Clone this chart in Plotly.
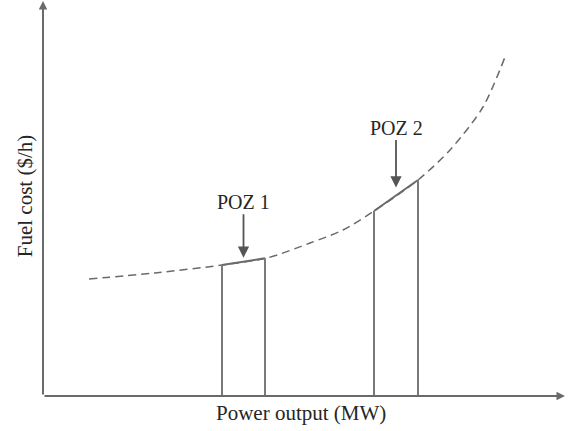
import numpy as np
import plotly.graph_objects as go

# Fuel cost curve (arbitrary units)
power = [46, 112, 179, 224, 267, 300, 331, 375, 407, 440, 462]
cost = [117, 123, 131, 138, 153, 166, 185, 216, 246, 289, 339]

# Prohibited operating zones (power bounds)
poz_names = ["POZ 1", "POZ 2"]
poz_low = [179, 331]
poz_high = [222, 375]

# label placement styling (pixel offsets)
label_offsets = [-60, -68]
arrow_standoffs = [4, 8]

x_max = 522
y_max = 395

line_col = "#6a6a6a"
text_col = "#262626"
font_family = "Liberation Serif, Times New Roman, serif"

fig = go.Figure()

# dashed cost curve
fig.add_trace(go.Scatter(
    x=power, y=cost, mode="lines",
    line=dict(color=line_col, width=1.5, dash="8px,5px", shape="spline", smoothing=0.8),
    hoverinfo="skip", showlegend=False))

for name, lo, hi, off, so in zip(poz_names, poz_low, poz_high, label_offsets, arrow_standoffs):
    c_lo = float(np.interp(lo, power, cost))
    c_hi = float(np.interp(hi, power, cost))
    # solid segment within POZ
    fig.add_trace(go.Scatter(
        x=[lo, hi], y=[c_lo, c_hi], mode="lines",
        line=dict(color=line_col, width=2),
        hoverinfo="skip", showlegend=False))
    # vertical boundary lines
    fig.add_trace(go.Scatter(
        x=[lo, lo, None, hi, hi], y=[0, c_lo, None, 0, c_hi], mode="lines",
        line=dict(color="#7a7a7a", width=2),
        hoverinfo="skip", showlegend=False))
    mid = (lo + hi) / 2
    fig.add_annotation(
        x=mid, y=float(np.interp(mid, power, cost)), xref="x", yref="y",
        text=name, showarrow=True, ax=0, ay=off,
        arrowhead=2, arrowsize=1.25, arrowwidth=1.8, arrowcolor="#555555",
        standoff=so, font=dict(family=font_family, size=20, color=text_col))

# axes with arrows
fig.add_annotation(x=x_max, y=0, ax=0, ay=0, xref="x", yref="y", axref="x", ayref="y",
                   text="", showarrow=True, arrowhead=2, arrowsize=0.85, arrowwidth=2,
                   arrowcolor=line_col)
fig.add_annotation(x=0, y=y_max, ax=0, ay=0, xref="x", yref="y", axref="x", ayref="y",
                   text="", showarrow=True, arrowhead=2, arrowsize=0.85, arrowwidth=2,
                   arrowcolor=line_col)

# axis titles
fig.add_annotation(x=0.494, y=-0.043, xref="paper", yref="paper", text="Power output (MW)",
                   showarrow=False, xanchor="center", yanchor="middle",
                   font=dict(family=font_family, size=21, color=text_col))
fig.add_annotation(x=-0.035, y=0.505, xref="paper", yref="paper", text="Fuel cost ($/h)",
                   showarrow=False, xanchor="center", yanchor="middle", textangle=-90,
                   font=dict(family=font_family, size=21, color=text_col))

ax_common = dict(showgrid=False, zeroline=False, showticklabels=False, showline=False,
                 ticks="", fixedrange=True)
fig.update_layout(
    width=572, height=431, autosize=False,
    margin=dict(l=43, r=7, t=1, b=35),
    paper_bgcolor="white", plot_bgcolor="white",
    xaxis=dict(range=[0, x_max], **ax_common),
    yaxis=dict(range=[0, y_max], **ax_common),
)

fig.write_html("out.html")
